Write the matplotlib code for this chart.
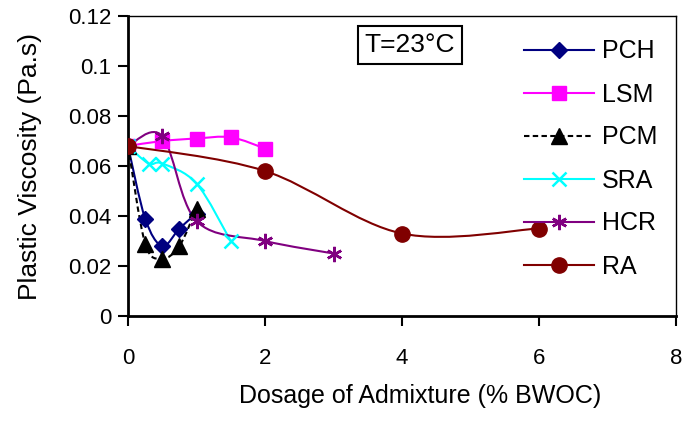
import matplotlib
matplotlib.use("Agg")
import matplotlib.pyplot as plt
import numpy as np
from matplotlib.path import Path
from matplotlib.patches import PathPatch
from matplotlib.lines import Line2D

plt.rcParams['font.family'] = ['Liberation Sans', 'DejaVu Sans']

# ---- data ----
pch_x = [0, 0.25, 0.5, 0.75, 1.0]
pch_y = [0.068, 0.039, 0.028, 0.035, 0.041]
lsm_x = [0, 0.5, 1.0, 1.5, 2.0]
lsm_y = [0.068, 0.070, 0.071, 0.0715, 0.067]
pcm_x = [0, 0.25, 0.5, 0.75, 1.0]
pcm_y = [0.068, 0.029, 0.023, 0.028, 0.043]
sra_x = [0, 0.3, 0.5, 1.0, 1.5]
sra_y = [0.068, 0.061, 0.061, 0.053, 0.030]
hcr_x = [0, 0.5, 1.0, 2.0, 3.0]
hcr_y = [0.068, 0.072, 0.038, 0.030, 0.025]
ra_x = [0, 2, 4, 6]
ra_y = [0.068, 0.058, 0.033, 0.035]

labels = ['PCH', 'LSM', 'PCM', 'SRA', 'HCR', 'RA']
xs = [pch_x, lsm_x, pcm_x, sra_x, hcr_x, ra_x]
ys = [pch_y, lsm_y, pcm_y, sra_y, hcr_y, ra_y]
colors = ['#000080', '#FF00FF', '#000000', '#00FFFF', '#800080', '#800000']
markers = ['D', 's', '^', 'x', (6, 2, 0), 'o']
msizes = [8, 10, 11, 10, 11, 11]
lstyles = ['-', '-', (0, (2.6, 1.6)), '-', '-', '-']

xticks = [0, 2, 4, 6, 8]
yticks = [0, 0.02, 0.04, 0.06, 0.08, 0.1, 0.12]
ytick_labels = ['0', '0.02', '0.04', '0.06', '0.08', '0.1', '0.12']


def smooth_path(x, y):
    P = np.column_stack([x, y]).astype(float)
    n = len(P)
    verts = [P[0]]
    codes = [Path.MOVETO]
    for i in range(n - 1):
        p0 = P[i - 1] if i > 0 else P[i]
        p1 = P[i]
        p2 = P[i + 1]
        p3 = P[i + 2] if i + 2 < n else P[i + 1]
        c1 = p1 + (p2 - p0) / 6.0
        c2 = p2 - (p3 - p1) / 6.0
        verts += [c1, c2, p2]
        codes += [Path.CURVE4] * 3
    return Path(verts, codes)


fig = plt.figure(figsize=(6.85, 4.32), dpi=100)
ax = fig.add_axes([128 / 685, 1 - 316 / 432, 548 / 685, 300 / 432])

handles = []
for x, y, c, m, ms, ls, lab in zip(xs, ys, colors, markers, msizes, lstyles, labels):
    patch = PathPatch(smooth_path(x, y), facecolor='none', edgecolor=c,
                      lw=1.5, linestyle=ls, zorder=2)
    ax.add_patch(patch)
    mew = 1.8 if m in ('x',) or isinstance(m, tuple) else 1.0
    ax.plot(x, y, linestyle='none', marker=m, markersize=ms, color=c,
            markeredgecolor=c, markeredgewidth=mew, zorder=3)
    handles.append(Line2D([], [], color=c, lw=1.5, linestyle=ls, marker=m,
                          markersize=ms, markeredgewidth=mew))

ax.set_xlim(0, 8)
ax.set_ylim(0, 0.12)
ax.set_xticks(xticks)
ax.set_xticklabels([str(t) for t in xticks])
ax.set_yticks(yticks)
ax.set_yticklabels(ytick_labels)
ax.tick_params(axis='both', direction='out', length=7, width=1.5,
               labelsize=16, pad=5)
ax.tick_params(axis='x', pad=16)
for s in ['left', 'bottom']:
    ax.spines[s].set_linewidth(2)
for s in ['top', 'right']:
    ax.spines[s].set_linewidth(1)

ax.set_ylabel('Plastic Viscosity (Pa.s)', fontsize=19)
ax.yaxis.set_label_coords(-(128 - 30) / 548, 0.5)
ax.set_xlabel('Dosage of Admixture (% BWOC)', fontsize=18)
ax.xaxis.set_label_coords((420 - 128) / 548, -(396 - 316) / 300)
ax.xaxis.label.set_va('center')
ax.yaxis.label.set_va('center')

leg = ax.legend(handles, labels, loc='upper left',
                bbox_to_anchor=(511 / 685, 1 - 27 / 432),
                bbox_transform=fig.transFigure, frameon=False, fontsize=18,
                handlelength=2.8, handletextpad=0.35, labelspacing=0.76,
                borderpad=0)

ax.text(410 / 685, 1 - 45 / 432, 'T=23°C', transform=fig.transFigure,
        fontsize=19, ha='center', va='center',
        bbox=dict(boxstyle='square,pad=0.25', facecolor='white',
                  edgecolor='black', linewidth=1.5))

fig.savefig('out.png', dpi=100)
